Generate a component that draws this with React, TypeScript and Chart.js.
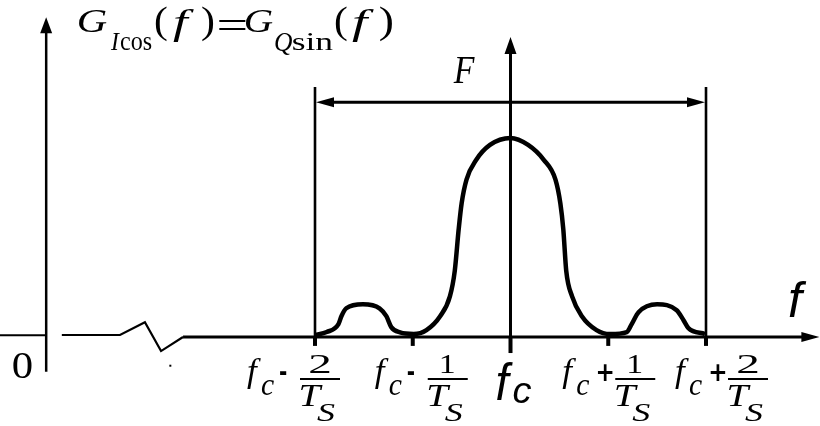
import { useEffect, useRef } from "react";
import { Chart, registerables } from "chart.js";
Chart.register(...registerables);

// spectrum samples: offset from fc in units of 1/Ts, relative level
const freqOffsets = [-2.0, -1.88, -1.76, -1.73, -1.68, -1.51, -1.34, -1.27, -1.22, -1.13, -0.99, -0.86, -0.72, -0.62, -0.57, -0.53, -0.5, -0.45, -0.35, -0.21, 0, 0.18, 0.34, 0.46, 0.51, 0.54, 0.57, 0.63, 0.73, 0.88, 1.02, 1.19, 1.24, 1.31, 1.5, 1.7, 1.77, 1.82, 1.99];
const spectrum = [0.005, 0.02, 0.06, 0.1, 0.14, 0.16, 0.14, 0.1, 0.045, 0.018, 0.01, 0.03, 0.1, 0.2, 0.33, 0.54, 0.67, 0.79, 0.89, 0.965, 1.0, 0.965, 0.89, 0.79, 0.67, 0.54, 0.33, 0.2, 0.1, 0.03, 0.01, 0.02, 0.06, 0.12, 0.16, 0.13, 0.08, 0.04, 0.01];

// tick positions (units of 1/Ts from fc) and their labels
const tickValues = [-2, -1, 0, 1, 2];
const tickSigns = ["-", "-", "", "+", "+"];
const tickNumerators = ["2", "1", "", "1", "2"];

// band edges and axis geometry (data units)
const bandEdges = [-2, 2];
const bandTop = 1.258;
const bandArrowLevel = 1.18;
const yAxisAt = -4.75;
const yAxisTop = 1.61;
const yAxisBottom = -0.18;
const centerTop = 1.51;
const xAxisEnd = 3.16;
const xMin = -5.2225;
const xMax = 3.1662;
const yMin = -0.4545;
const yMax = 1.697;
const breakX = [-4.59, -3.995, -3.74, -3.575, -3.35];
const breakY = [0.005, 0.005, 0.07, -0.076, -0.005];

// layout offsets for tick labels (px from the tick)
const labelShift = [-68, -38, 0, -46, -31];

const SERIF = "'Liberation Serif'";
const SANS = "'Liberation Sans'";

function fit(ctx: any, s: string, font: string, l: number, r: number, top: number, bottom: number) {
  ctx.font = font;
  const m = ctx.measureText(s);
  const iw = m.actualBoundingBoxLeft + m.actualBoundingBoxRight;
  const ih = m.actualBoundingBoxAscent + m.actualBoundingBoxDescent;
  const sx = iw > 0 ? (r - l) / iw : 1;
  const sy = ih > 0 ? (bottom - top) / ih : 1;
  ctx.save();
  ctx.translate(l + m.actualBoundingBoxLeft * sx, top + m.actualBoundingBoxAscent * sy);
  ctx.scale(sx, sy);
  ctx.fillText(s, 0, 0);
  ctx.restore();
}

const diagramPlugin = {
  id: "diagram",
  beforeDatasetsDraw(chart: any) {
    const ctx = chart.ctx;
    const xs = chart.scales.x;
    const ys = chart.scales.y;
    const px = (v: number) => xs.getPixelForValue(v);
    const py = (v: number) => ys.getPixelForValue(v);
    ctx.save();
    ctx.strokeStyle = "#000";
    ctx.fillStyle = "#000";
    ctx.lineCap = "butt";

    const line = (x1: number, y1: number, x2: number, y2: number, w: number) => {
      ctx.lineWidth = w;
      ctx.beginPath();
      ctx.moveTo(x1, y1);
      ctx.lineTo(x2, y2);
      ctx.stroke();
    };
    const tri = (a: number[], b: number[], c: number[]) => {
      ctx.beginPath();
      ctx.moveTo(a[0], a[1]);
      ctx.lineTo(b[0], b[1]);
      ctx.lineTo(c[0], c[1]);
      ctx.closePath();
      ctx.fill();
    };

    const y0 = py(0);
    // left stub of x axis
    line(px(xMin), py(0.004), px(yAxisAt), py(0.004), 2);
    // axis break zigzag
    ctx.lineWidth = 2.2;
    ctx.lineJoin = "miter";
    ctx.beginPath();
    breakX.forEach((v, i) => {
      if (i === 0) ctx.moveTo(px(v), py(breakY[i]));
      else ctx.lineTo(px(v), py(breakY[i]));
    });
    ctx.stroke();
    // main x axis
    line(px(breakX[breakX.length - 1]), py(-0.005), px(xAxisEnd) - 12, py(-0.005), 3);
    const ay = py(-0.005);
    tri([px(xAxisEnd), ay], [px(xAxisEnd) - 18, ay - 5], [px(xAxisEnd) - 18, ay + 5]);

    // y axis
    line(px(yAxisAt), py(yAxisBottom), px(yAxisAt), py(yAxisTop) + 10, 2.5);
    tri([px(yAxisAt), py(yAxisTop)], [px(yAxisAt) - 6, py(yAxisTop) + 16], [px(yAxisAt) + 6, py(yAxisTop) + 16]);

    // center line
    line(px(0), py(-0.086), px(0), py(centerTop) + 10, 3);
    tri([px(0), py(centerTop)], [px(0) - 6, py(centerTop) + 17], [px(0) + 6, py(centerTop) + 17]);

    // band edges
    bandEdges.forEach((e) => line(px(e), py(-0.045), px(e), py(bandTop), 2.6));
    // F arrow
    const fy = py(bandArrowLevel);
    line(px(bandEdges[0]) + 10, fy, px(bandEdges[1]) - 10, fy, 3);
    tri([px(bandEdges[0]) + 1, fy], [px(bandEdges[0]) + 19, fy - 5], [px(bandEdges[0]) + 19, fy + 5]);
    tri([px(bandEdges[1]) - 1, fy], [px(bandEdges[1]) - 19, fy - 5], [px(bandEdges[1]) - 19, fy + 5]);

    // ticks
    tickValues.forEach((t) => {
      if (t === 0) line(px(t), y0, px(t), py(-0.086), 4);
      else line(px(t), y0, px(t), py(-0.05), 4);
    });

    // stray dot
    ctx.fillRect(px(-3.48) - 1, py(-0.15) - 1, 2, 2);
    ctx.restore();
  },
  afterDatasetsDraw(chart: any) {
    const ctx = chart.ctx;
    const xs = chart.scales.x;
    const px = (v: number) => xs.getPixelForValue(v);
    ctx.save();
    ctx.fillStyle = "#000";
    ctx.textBaseline = "alphabetic";
    ctx.textAlign = "left";

    // title  G_Icos(f)=G_Qsin(f)
    fit(ctx, "G", `italic 32px ${SERIF}`, 78, 107, 10, 32);
    fit(ctx, "I", `italic 26px ${SERIF}`, 110, 120, 33, 50);
    fit(ctx, "cos", `26px ${SERIF}`, 120, 152, 37, 50);
    fit(ctx, "(", `38px ${SERIF}`, 155, 167, 7, 42);
    fit(ctx, "f", `italic 36px ${SERIF}`, 173, 195, 9, 42);
    fit(ctx, ")", `38px ${SERIF}`, 202, 213, 7, 42);
    fit(ctx, "=", `36px ${SERIF}`, 218, 246, 20, 30);
    fit(ctx, "G", `italic 32px ${SERIF}`, 245, 273, 10, 32);
    fit(ctx, "Q", `italic 24px ${SERIF}`, 275, 292, 34, 55);
    fit(ctx, "sin", `26px ${SERIF}`, 293, 333, 33, 50);
    fit(ctx, "(", `38px ${SERIF}`, 335, 347, 7, 42);
    fit(ctx, "f", `italic 36px ${SERIF}`, 352, 375, 9, 42);
    fit(ctx, ")", `38px ${SERIF}`, 380, 392, 7, 42);

    // F label
    fit(ctx, "F", `italic 40px ${SERIF}`, 453, 475, 57, 83);
    // axis label f
    fit(ctx, "f", `italic 50px ${SANS}`, 789, 807, 281, 317);
    // origin
    fit(ctx, "0", `36px ${SERIF}`, 13, 32, 353, 378);

    // tick labels
    tickValues.forEach((v, i) => {
      const xp = px(v);
      if (v === 0) {
        fit(ctx, "f", `italic 50px ${SANS}`, xp - 14, xp + 3, 363, 400);
        fit(ctx, "c", `italic 38px ${SANS}`, xp + 3, xp + 21, 383, 403);
        return;
      }
      const X = xp + labelShift[i];
      fit(ctx, "f", `italic 35px ${SERIF}`, X, X + 14, 358, 390);
      fit(ctx, "c", `italic 32px ${SERIF}`, X + 14, X + 27, 380, 395);
      if (tickSigns[i] === "-") fit(ctx, "-", `bold 20px 'DejaVu Sans'`, X + 33, X + 40, 372, 376);
      else fit(ctx, "+", `bold 26px 'DejaVu Sans'`, X + 35, X + 51, 364, 381);
      const fx = X + 53;
      const fw = 40;
      const num = tickNumerators[i];
      const nw = num === "1" ? 13 : 20;
      fit(ctx, num, `26px ${SERIF}`, fx + fw / 2 - nw / 2, fx + fw / 2 + nw / 2, 355, 373);
      ctx.fillRect(fx, 378, fw, 2);
      fit(ctx, "T", `italic 32px ${SERIF}`, fx + 1, fx + 23, 385, 406);
      fit(ctx, "S", `italic 26px ${SERIF}`, fx + 17, fx + 35, 404, 421);
    });
    ctx.restore();
  },
};

export default function App() {
  const ref = useRef<HTMLCanvasElement | null>(null);
  useEffect(() => {
    if (!ref.current) return;
    const chart = new Chart(ref.current, {
      type: "scatter",
      data: {
        datasets: [
          {
            data: freqOffsets.map((x, i) => ({ x, y: spectrum[i] })),
            showLine: true,
            borderColor: "#000",
            borderWidth: 4.5,
            pointRadius: 0,
            cubicInterpolationMode: "monotone",
            fill: false,
            clip: false as any,
          },
        ],
      },
      options: {
        animation: false,
        responsive: false,
        devicePixelRatio: 1,
        layout: { padding: 0 },
        plugins: { legend: { display: false }, tooltip: { enabled: false }, title: { display: false } },
        events: [],
        scales: {
          x: { type: "linear", min: xMin, max: xMax, display: false },
          y: { type: "linear", min: yMin, max: yMax, display: false },
        },
      },
      plugins: [diagramPlugin],
    });
    return () => chart.destroy();
  }, []);
  return (
    <div style={{ position: "absolute", left: 0, top: 0, width: 820, height: 426, background: "#fff" }}>
      <canvas ref={ref} width={820} height={426} style={{ display: "block" }} />
    </div>
  );
}
